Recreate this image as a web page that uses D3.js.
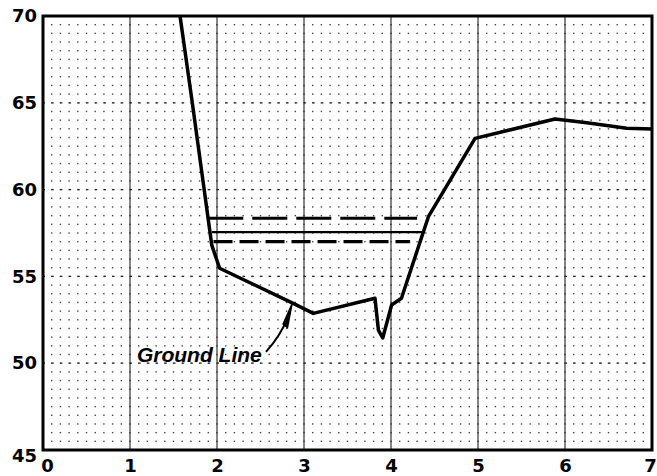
<!DOCTYPE html>
<html>
<head>
<meta charset="utf-8">
<script src="https://cdn.jsdelivr.net/npm/d3@7"></script>
<style>
  body { margin: 0; background: #fff; }
  svg { display: block; }
  .tick text { font-family: "DejaVu Sans", sans-serif; font-weight: bold; font-size: 18px; fill: #000; }
</style>
</head>
<body>
<script>
// ground profile
var groundX = [1.575, 1.716, 1.94, 2.03, 2.876, 3.107, 3.816, 3.855, 3.905, 4.007, 4.12, 4.43, 4.966, 5.885, 6.25, 6.709, 7.0];
var groundY = [70, 65, 56.8, 55.47, 53.45, 52.87, 53.74, 51.91, 51.45, 53.35, 53.74, 58.44, 62.95, 64.07, 63.85, 63.53, 63.49];

// three horizontal level lines (top dashed, solid, lower dashed)
var levelY = [58.35, 57.55, 57.0];
var levelX0 = [1.90, 1.94, 1.96];
var levelX1 = [4.30, 4.37, 4.22];

var xTicks = [0, 1, 2, 3, 4, 5, 6, 7];
var yTicks = [45, 50, 55, 60, 65, 70];

var labelText = "Ground Line";

var width = 657, height = 476;
var margin = {top: 16, right: 5, bottom: 26, left: 43};

var svg = d3.select("body").append("svg")
    .attr("width", width)
    .attr("height", height);

var x = d3.scaleLinear()
    .domain([0, 7])
    .range([margin.left, width - margin.right]);

var y = d3.scaleLinear()
    .domain([45, 70])
    .range([height - margin.bottom, margin.top]);

// dot grid: every 0.1 on x, every 0.5 on y
var dots = [];
for (var i = 0; i <= 70; i++) {
    for (var j = 0; j <= 50; j++) {
        dots.push([i / 10, 45 + j / 2]);
    }
}
svg.append("g")
    .attr("class", "dots")
    .selectAll("rect")
    .data(dots)
    .enter().append("rect")
    .attr("x", function (d) { return x(d[0]) - 0.7; })
    .attr("y", function (d) { return y(d[1]) - 0.7; })
    .attr("width", 1.4)
    .attr("height", 1.4)
    .attr("fill", "#444");

// major grid
svg.append("g")
    .attr("class", "vgrid")
    .selectAll("line")
    .data(xTicks.slice(1, -1))
    .enter().append("line")
    .attr("x1", function (d) { return x(d); })
    .attr("x2", function (d) { return x(d); })
    .attr("y1", y(70))
    .attr("y2", y(45))
    .attr("stroke", "#222")
    .attr("stroke-width", 1.1);

svg.append("g")
    .attr("class", "hgrid")
    .selectAll("line")
    .data(yTicks.slice(1, -1))
    .enter().append("line")
    .attr("x1", x(0))
    .attr("x2", x(7))
    .attr("y1", function (d) { return y(d); })
    .attr("y2", function (d) { return y(d); })
    .attr("stroke", "#222")
    .attr("stroke-width", 1.3)
    .attr("stroke-dasharray", "2,6.7");

// level lines
var dashes = ["35,9", null, "19,7"];
svg.append("g")
    .attr("class", "levels")
    .selectAll("line")
    .data(levelY)
    .enter().append("line")
    .attr("x1", function (d, i) { return x(levelX0[i]); })
    .attr("x2", function (d, i) { return x(levelX1[i]); })
    .attr("y1", function (d) { return y(d); })
    .attr("y2", function (d) { return y(d); })
    .attr("stroke", "#000")
    .attr("stroke-width", function (d, i) { return i === 1 ? 2.4 : 3.2; })
    .attr("stroke-dasharray", function (d, i) { return dashes[i]; });

// ground line
var line = d3.line()
    .x(function (d) { return x(d[0]); })
    .y(function (d) { return y(d[1]); });

svg.append("path")
    .datum(d3.zip(groundX, groundY))
    .attr("d", line)
    .attr("fill", "none")
    .attr("stroke", "#000")
    .attr("stroke-width", 3.5)
    .attr("stroke-linejoin", "round");

// annotation
svg.append("text")
    .attr("x", x(1.08))
    .attr("y", y(50.07))
    .attr("font-family", "Liberation Sans, Arial, sans-serif")
    .attr("font-style", "italic")
    .attr("font-weight", "bold")
    .attr("font-size", 21)
    .text(labelText);

var tail = [x(2.563), y(50.65)];
var ctrl = [x(2.73), y(51.6)];
var tip = [x(2.862), y(53.4)];
svg.append("path")
    .attr("d", "M" + tail + "Q" + ctrl + " " + x(2.80) + "," + y(52.5))
    .attr("fill", "none")
    .attr("stroke", "#000")
    .attr("stroke-width", 2);

svg.append("path")
    .attr("d", "M" + tip + "L" + (x(2.76)) + "," + y(52.25) + "L" + (x(2.81)) + "," + y(52.05) + "Z")
    .attr("fill", "#000")
    .attr("stroke", "#000")
    .attr("stroke-width", 1.5);

// axes
var xAxis = svg.append("g")
    .attr("transform", "translate(0," + y(45) + ")")
    .call(d3.axisBottom(x).tickValues(xTicks).tickFormat(d3.format("d")).tickSize(0).tickPadding(9))
    .call(function (g) { g.select(".domain").remove(); });

// first label sits right of the corner, last one hugs the edge
xAxis.selectAll(".tick text")
    .attr("dx", function (d) { return d === 0 ? 4 : (d === 7 ? -2 : 0); });

var yAxis = svg.append("g")
    .attr("transform", "translate(" + x(0) + ",0)")
    .call(d3.axisLeft(y).tickValues(yTicks).tickSize(0).tickPadding(6))
    .call(function (g) { g.select(".domain").remove(); });

yAxis.selectAll(".tick text")
    .attr("dy", function (d) { return d === 45 ? "0.62em" : "0.32em"; });

// frame
svg.append("rect")
    .attr("x", x(0))
    .attr("y", y(70))
    .attr("width", x(7) - x(0))
    .attr("height", y(45) - y(70))
    .attr("fill", "none")
    .attr("stroke", "#000")
    .attr("stroke-width", 3);
</script>
</body>
</html>
